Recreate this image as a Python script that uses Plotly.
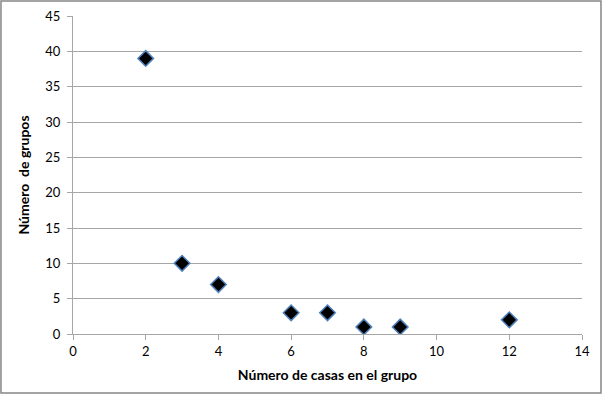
import plotly.graph_objects as go

casas = [2, 3, 4, 6, 7, 8, 9, 12]
grupos = [39, 10, 7, 3, 3, 1, 1, 2]

fig = go.Figure()
fig.add_trace(go.Scatter(
    x=casas, y=grupos, mode="markers",
    marker=dict(symbol="diamond", size=12, color="black",
                line=dict(color="#4F81BD", width=1.5)),
    showlegend=False,
))

font = dict(family="Lato, Open Sans, sans-serif", size=13, color="black")
tfont = dict(family="Lato, Open Sans, sans-serif", size=14, color="black")
axis_common = dict(
    showline=True, linecolor="#A6A6A6", linewidth=1,
    ticks="outside", ticklen=5, tickcolor="#A6A6A6",
    zeroline=False, tickfont=font, automargin=False,
)
fig.update_layout(
    width=603, height=395,
    margin=dict(l=73, r=21, t=16, b=61),
    paper_bgcolor="white", plot_bgcolor="white",
    xaxis=dict(range=[0, 14], dtick=2, showgrid=False,
               title=dict(text="<b>Número de casas en el grupo</b>", font=tfont, standoff=12),
               **axis_common),
    yaxis=dict(range=[0, 45], dtick=5, showgrid=True, gridcolor="#A6A6A6",
               ticklabelstandoff=4,
               title=dict(text="<b>Número  de grupos</b>", font=tfont, standoff=12),
               **axis_common),
    shapes=[dict(type="rect", xref="paper", yref="paper",
                 x0=-0.1415, x1=1.0373, y0=-0.1855, y1=1.0472,
                 line=dict(color="#868686", width=1.5))],
)
fig.write_html("out.html", config={"displayModeBar": False},
               post_script="document.body.style.margin='0';document.body.style.padding='0';")
